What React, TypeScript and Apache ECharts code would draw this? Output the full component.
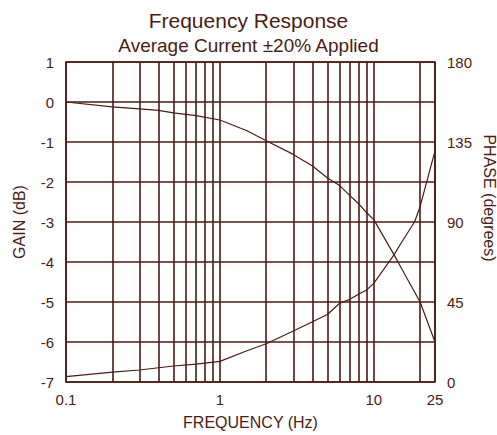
import React, { useEffect, useRef } from "react";
import * as echarts from "echarts";

const INK = "#4a1c14";

const freqGain = [0.1, 0.2, 0.3, 0.4, 0.5, 0.7, 1, 1.5, 2, 3, 4, 5, 6, 7, 8, 9, 10, 13.5, 15, 20, 25];
const gainDb = [0, -0.12, -0.17, -0.21, -0.27, -0.34, -0.45, -0.72, -0.97, -1.31, -1.6, -1.9, -2.09, -2.34, -2.55, -2.77, -2.94, -3.81, -4.13, -5.0, -6.0];

const freqPhase = [0.1, 0.2, 0.3, 0.5, 0.7, 1, 1.5, 2, 3, 4, 5, 6, 7, 8, 9, 10, 13.5, 15, 18.4, 20, 25];
const phaseDeg = [3.0, 5.5, 6.75, 9.0, 10.1, 11.6, 17.6, 21.5, 28.7, 33.9, 38.0, 44.3, 46.5, 49.5, 51.8, 55.5, 71.4, 77.9, 90, 98.6, 130];

const minorFreqs = [0.2, 0.3, 0.4, 0.5, 0.6, 0.7, 0.8, 0.9, 2, 3, 4, 5, 6, 7, 8, 9, 20];

const FONT = "'Liberation Sans', Arial, sans-serif";

export default function App() {
  const ref = useRef<HTMLDivElement>(null);
  useEffect(() => {
    if (!ref.current) return;
    const chart = echarts.init(ref.current, undefined, { renderer: "svg" });
    chart.setOption({
      animation: false,
      backgroundColor: "#ffffff",
      title: [
        {
          text: "Frequency Response",
          left: "center",
          top: 5,
          textStyle: { color: INK, fontSize: 21, fontWeight: "normal", fontFamily: FONT },
        },
        {
          text: "Average Current ±20% Applied",
          left: "center",
          top: 31,
          textStyle: { color: INK, fontSize: 19, fontWeight: "normal", fontFamily: FONT },
        },
      ],
      grid: {
        left: 66,
        right: 62,
        top: 62,
        bottom: 53,
        show: true,
        borderColor: INK,
        borderWidth: 1.6,
        containLabel: false,
      },
      xAxis: {
        type: "log",
        logBase: 10,
        min: 0.1,
        max: 25,
        name: "FREQUENCY (Hz)",
        nameLocation: "middle",
        nameGap: 32,
        nameTextStyle: { color: INK, fontSize: 16, fontFamily: FONT },
        axisLine: { show: false },
        axisTick: { show: false },
        axisLabel: { color: INK, fontSize: 15, fontFamily: FONT, margin: 10 },
        splitLine: { show: true, lineStyle: { color: INK, width: 1.6 } },
      },
      yAxis: [
        {
          type: "value",
          min: -7,
          max: 1,
          interval: 1,
          name: "GAIN (dB)",
          nameLocation: "middle",
          nameGap: 39,
          nameTextStyle: { color: INK, fontSize: 16, fontFamily: FONT },
          axisLine: { show: false },
          axisTick: { show: false },
          axisLabel: { color: INK, fontSize: 15, fontFamily: FONT, margin: 12 },
          splitLine: { show: true, lineStyle: { color: INK, width: 1.6 } },
        },
        {
          type: "value",
          min: 0,
          max: 180,
          interval: 45,
          position: "right",
          axisLine: { show: false },
          axisTick: { show: false },
          axisLabel: { color: INK, fontSize: 15, fontFamily: FONT, margin: 12 },
          splitLine: { show: false },
        },
      ],
      graphic: [
        {
          type: "text",
          x: 489,
          y: 198,
          rotation: -Math.PI / 2,
          style: {
            text: "PHASE (degrees)",
            fill: INK,
            font: `16px ${FONT}`,
            align: "center",
            verticalAlign: "middle",
          },
        },
      ],
      series: [
        {
          type: "line",
          name: "Gain",
          yAxisIndex: 0,
          showSymbol: false,
          data: freqGain.map((f, i) => [f, gainDb[i]]),
          lineStyle: { color: INK, width: 1.2 },
          itemStyle: { color: INK },
          markLine: {
            silent: true,
            symbol: ["none", "none"],
            label: { show: false },
            lineStyle: { color: INK, width: 1.6, type: "solid" },
            data: minorFreqs.map((f) => ({ xAxis: f })),
          },
        },
        {
          type: "line",
          name: "Phase",
          yAxisIndex: 1,
          showSymbol: false,
          data: freqPhase.map((f, i) => [f, phaseDeg[i]]),
          lineStyle: { color: INK, width: 1.2 },
          itemStyle: { color: INK },
        },
      ],
    });
    return () => chart.dispose();
  }, []);
  return (
    <div
      ref={ref}
      style={{ position: "absolute", left: 0, top: 0, width: 497, height: 435 }}
    />
  );
}
